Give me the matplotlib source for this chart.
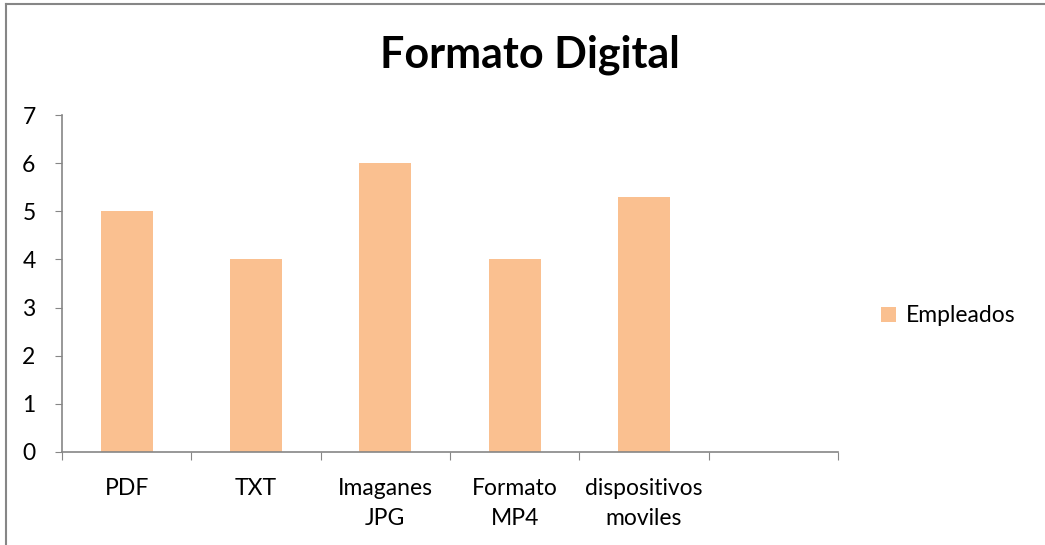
import matplotlib.pyplot as plt
import numpy as np
from matplotlib.lines import Line2D

# datos
categorias = ["PDF", "TXT", "Imaganes\nJPG", "Formato\nMP4", "dispositivos\nmoviles"]
empleados = [5, 4, 6, 4, 5.3]
n_slots = 6  # Excel deja una categoria vacia al final
yticks = [0, 1, 2, 3, 4, 5, 6, 7]

plt.rcParams['font.family'] = ['Lato', 'DejaVu Sans']

fig = plt.figure(figsize=(10.45, 5.45), dpi=100)
ax = fig.add_axes([62 / 1045, 1 - 452 / 545, 776 / 1045, 337 / 545])

x = np.arange(len(categorias))
ax.bar(x, empleados, width=0.4, color='#FAC090', label='Empleados', zorder=2)

ax.set_xlim(-0.5, n_slots - 0.5)
ax.set_ylim(0, 7)
ax.set_yticks(yticks)

# ticks mayores en los limites de cada categoria, etiquetas en el centro
ax.set_xticks(np.arange(n_slots + 1) - 0.5)
ax.set_xticklabels([])
ax.set_xticks(x, minor=True)
ax.set_xticklabels(categorias, minor=True, fontsize=16.5, linespacing=1.5)
ax.tick_params(axis='x', which='minor', length=0, pad=19)
ax.tick_params(axis='x', which='major', length=6, color='#868686', direction='out')
ax.tick_params(axis='y', length=5, color='#868686', labelsize=16.5, pad=14)

for s in ['top', 'right']:
    ax.spines[s].set_visible(False)
for s in ['left', 'bottom']:
    ax.spines[s].set_color('#868686')
    ax.spines[s].set_linewidth(1.2)

fig.text(530 / 1045, 1 - 55 / 545, 'Formato Digital', ha='center', va='center',
         fontsize=31, fontweight='bold')

leg = fig.legend(loc='center left', bbox_to_anchor=(872 / 1045, 1 - 316 / 545),
                 frameon=False, fontsize=16.5, handlelength=0.65, handleheight=0.65,
                 handletextpad=0.45, borderaxespad=0)

# borde del grafico (solo visible arriba e izquierda)
fig.add_artist(Line2D([5.5 / 1045, 5.5 / 1045], [0, 1 - 3.5 / 545], color='#868686', lw=1.5))
fig.add_artist(Line2D([5.5 / 1045, 1], [1 - 3.5 / 545, 1 - 3.5 / 545], color='#868686', lw=1.5))

fig.savefig('out.png', dpi=100)
